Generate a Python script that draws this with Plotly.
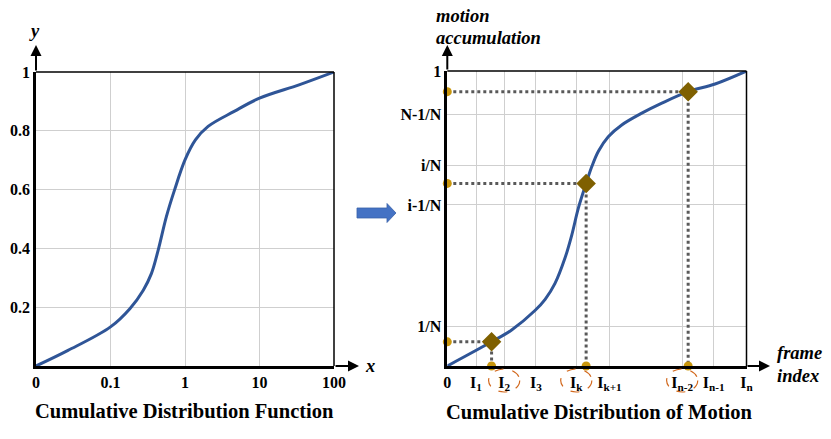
import plotly.graph_objects as go

# ---------------- data ----------------
# left chart: CDF on a categorical-like log scale (positions 0..4)
cdf_tick_pos = [0, 1, 2, 3, 4]
cdf_tick_text = ["0", "0.1", "1", "10", "100"]
cdf_y_ticks = [0.2, 0.4, 0.6, 0.8, 1]
cdf_y_text = ["0.2", "0.4", "0.6", "0.8", "1"]
cdf_x = [0, 0.43, 1.0, 1.26, 1.44, 1.55, 1.64, 1.75, 1.86, 2.0, 2.14, 2.31, 2.66, 3.0, 3.54, 4.0]
cdf_y = [0, 0.053, 0.133, 0.195, 0.258, 0.315, 0.394, 0.508, 0.599, 0.701, 0.769, 0.815, 0.866, 0.911, 0.957, 1.0]

# right chart: cumulative distribution of motion
frame_pos = [0, 0.96, 1.9, 2.96, 4.31, 5.42, 7.85, 8.90, 10]
frame_text = ["0", "I<sub>1</sub>", "I<sub>2</sub>", "I<sub>3</sub>", "I<sub>k</sub>",
              "I<sub>k+1</sub>", "I<sub>n-2</sub>", "I<sub>n-1</sub>", "I<sub>n</sub>"]
acc_pos = [0.133, 0.546, 0.679, 0.853, 1.0]
acc_text = ["1/N", "i-1/N", "i/N", "N-1/N", "1"]
motion_x = [0, 1.48, 2.15, 2.93, 3.27, 3.60, 3.93, 4.16, 4.38, 4.64, 4.83, 5.05, 5.38,
            5.83, 6.50, 7.17, 8.05, 8.95, 10]
motion_y = [0, 0.082, 0.122, 0.188, 0.226, 0.280, 0.365, 0.444, 0.535, 0.619, 0.676, 0.728, 0.777,
            0.817, 0.857, 0.891, 0.930, 0.956, 1.0]
sample_x = [1.48, 4.64, 8.05]
sample_y = [0.082, 0.619, 0.930]
circled_pos = [1.9, 4.31, 7.85]

W, H = 831, 439
def px(x):
    return x / W
def py(y):
    return 1 - y / H

SERIF = "Liberation Serif"
BLUE = "#2F5597"
GRID = "#cfcfcf"
GOLD = "#C9960C"
BROWN = "#7F6000"
DOTGRAY = "#595959"

fig = go.Figure()

# left curve
fig.add_trace(go.Scatter(x=cdf_x, y=cdf_y, mode="lines", xaxis="x", yaxis="y",
                         line=dict(color=BLUE, width=3, shape="spline", smoothing=1.0),
                         hoverinfo="skip", showlegend=False, cliponaxis=False))

# right curve
fig.add_trace(go.Scatter(x=motion_x, y=motion_y, mode="lines", xaxis="x2", yaxis="y2",
                         line=dict(color=BLUE, width=3, shape="spline", smoothing=1.0),
                         hoverinfo="skip", showlegend=False, cliponaxis=False))

# dotted projection lines
for sx, sy in zip(sample_x, sample_y):
    fig.add_trace(go.Scatter(x=[0, sx, sx], y=[sy, sy, 0], mode="lines", xaxis="x2", yaxis="y2",
                             line=dict(color=DOTGRAY, width=3, dash="dot"),
                             hoverinfo="skip", showlegend=False, cliponaxis=False))

# gold dots on axes
fig.add_trace(go.Scatter(x=[0] * len(sample_y) + sample_x, y=sample_y + [0] * len(sample_x),
                         mode="markers", xaxis="x2", yaxis="y2",
                         marker=dict(color=GOLD, size=9),
                         hoverinfo="skip", showlegend=False, cliponaxis=False))
# diamonds
fig.add_trace(go.Scatter(x=sample_x, y=sample_y, mode="markers", xaxis="x2", yaxis="y2",
                         marker=dict(color=BROWN, size=15, symbol="diamond"),
                         hoverinfo="skip", showlegend=False, cliponaxis=False))

tickfont = dict(family=SERIF, size=16, color="black", weight="bold")

fig.update_layout(
    width=W, height=H,
    margin=dict(l=0, r=0, t=0, b=0, pad=0),
    paper_bgcolor="white", plot_bgcolor="white",
    xaxis=dict(domain=[px(36), px(334)], range=[0, 4], tickvals=cdf_tick_pos, ticktext=cdf_tick_text,
               showgrid=True, gridcolor=GRID, gridwidth=1.2, zeroline=False,
               showline=True, linecolor="black", linewidth=2.5, ticks="", tickfont=tickfont,
               anchor="y", fixedrange=True, automargin=False),
    yaxis=dict(domain=[py(366), py(72)], range=[0, 1], tickvals=cdf_y_ticks, ticktext=cdf_y_text,
               showgrid=True, gridcolor=GRID, gridwidth=1.2, zeroline=False,
               showline=True, linecolor="black", linewidth=2.5, ticks="", tickfont=tickfont,
               anchor="x", fixedrange=True, automargin=False),
    xaxis2=dict(domain=[px(447.3), px(746.5)], range=[0, 10], tickvals=frame_pos, ticktext=frame_text,
                showgrid=True, gridcolor=GRID, gridwidth=1.2, zeroline=False,
                showline=True, linecolor="black", linewidth=2.5, ticks="", tickfont=tickfont,
                anchor="y2", fixedrange=True, automargin=False),
    yaxis2=dict(domain=[py(366), py(71)], range=[0, 1], tickvals=acc_pos, ticktext=acc_text,
                showgrid=True, gridcolor=GRID, gridwidth=1.2, zeroline=False,
                showline=True, linecolor="black", linewidth=2.5, ticks="", tickfont=tickfont,
                anchor="x2", fixedrange=True, automargin=False),
)

shapes = []
# frames (top & right)
for xr, yr in (("x domain", "y domain"), ("x2 domain", "y2 domain")):
    shapes.append(dict(type="line", xref=xr, yref=yr, x0=0, x1=1, y0=1, y1=1,
                       line=dict(color="black", width=1.5)))
    shapes.append(dict(type="line", xref=xr, yref=yr, x0=1, x1=1, y0=0, y1=1,
                       line=dict(color="black", width=1.5)))
# dashed ellipses around selected frame labels
for cx in circled_pos:
    shapes.append(dict(type="circle", xref="x2", yref="paper", x0=cx - 0.52, x1=cx + 0.52,
                       y0=py(392), y1=py(369), line=dict(color="#D2691E", width=1.2, dash="dash")))
# block arrow between panels
pts = [(357, 208), (387, 208), (387, 203.5), (396, 213), (387, 222.5), (387, 218), (357, 218)]
path = "M " + " L ".join(f"{px(a):.5f},{py(b):.5f}" for a, b in pts) + " Z"
shapes.append(dict(type="path", xref="paper", yref="paper", path=path,
                   fillcolor="#4472C4", line=dict(color="#3A62A8", width=0.8)))
fig.update_layout(shapes=shapes)

ann = []
# axis arrows (head at x,y; tail offset in pixels)
def arrow(x, y, ax, ay):
    ann.append(dict(xref="paper", yref="paper", x=px(x), y=py(y), axref="pixel", ayref="pixel",
                    ax=ax, ay=ay, showarrow=True, arrowhead=2, arrowsize=1.1, arrowwidth=2,
                    arrowcolor="black", text=""))
arrow(36, 45, 0, 27)
arrow(359, 366, -25, 0)
arrow(447.3, 45, 0, 26)
arrow(770, 366, -24, 0)

lab = dict(family=SERIF, size=18.5, color="black", weight="bold", style="italic")
def label(x, y, text, font, xanchor="center"):
    ann.append(dict(xref="paper", yref="paper", x=px(x), y=py(y), text=text, showarrow=False,
                    xanchor=xanchor, yanchor="middle", font=font))
label(34, 31, "y", lab)
label(370, 366, "x", lab)
label(434, 16, "motion", lab, "left")
label(434, 38, "accumulation", lab, "left")
label(775, 353, "frame", lab, "left")
label(775, 376, "index", lab, "left")

title = dict(family=SERIF, size=20.5, color="black", weight="bold")
label(184, 411, "Cumulative Distribution Function", title)
label(599, 412, "Cumulative Distribution of Motion", title)
fig.update_layout(annotations=ann)

fig.write_html("out.html", config={"displayModeBar": False},
               post_script="document.body.style.margin='0';document.body.style.padding='0';"
                           "document.documentElement.style.overflow='hidden';")
